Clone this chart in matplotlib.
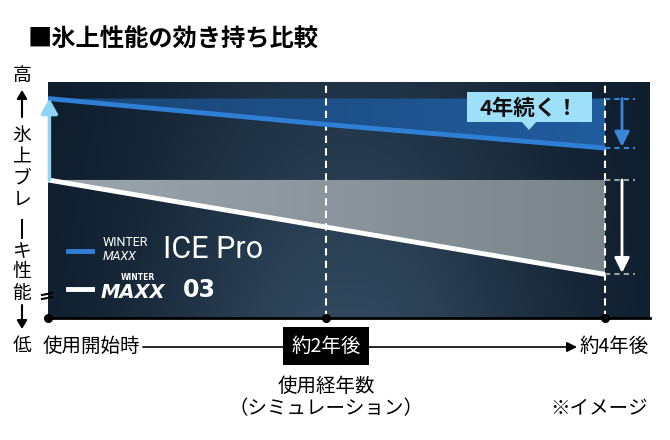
import numpy as np
import matplotlib
matplotlib.use("Agg")
import matplotlib.pyplot as plt
import matplotlib.transforms as mtransforms
from matplotlib.patches import FancyArrowPatch, Polygon, Rectangle
from matplotlib.lines import Line2D

plt.rcParams['font.family'] = ['Noto Sans CJK JP', 'DejaVu Sans']

# data (arbitrary performance scale 0-100)
years = [0, 2, 4]
ice_pro = [93, 82, 72]
maxx03 = [58.5, 38.5, 18.5]
x_labels = ['使用開始時', '約2年後', '約4年後']
title = '■氷上性能の効き持ち比較'
y_chars = '氷上ブレーキ性能'

W, H = 670, 440
fig = plt.figure(figsize=(W / 100, H / 100), dpi=100)
# pixel transform (origin top-left) for decorations
px = mtransforms.Affine2D().scale(1 / W, -1 / H).translate(0, 1) + fig.transFigure

ax_l, ax_r, ax_t, ax_b = 48, 650, 82, 318
ax = fig.add_axes([ax_l / W, 1 - ax_b / H, (ax_r - ax_l) / W, (ax_b - ax_t) / H])
xmax = years[-1] * (ax_r - ax_l) / (605 - ax_l)
ax.set_xlim(0, xmax)
ax.set_ylim(0, 100)
ax.axis('off')

# background gradient
nx, ny = 300, 120
gx = np.linspace(0, 1, nx)[None, :]
gy = np.linspace(0, 1, ny)[:, None]
dark = np.array([0x0d, 0x1b, 0x2a]) / 255
light = np.array([0x31, 0x48, 0x5e]) / 255
w = np.exp(-((gx - 0.5) / 0.34) ** 2) * (0.55 + 0.45 * gy)
bg = dark + (light - dark) * w[..., None]
ax.imshow(bg, extent=[0, xmax, 0, 100], aspect='auto', zorder=0, origin='upper')

xs = np.array(years, dtype=float)

# blue band (between top level and ICE Pro line)
poly_b = ax.fill_between(xs, ice_pro, ice_pro[0], color='none', zorder=1)
gb = np.linspace(0, 1, 200)[None, :]
c0 = np.array([0x1a, 0x44, 0x73]) / 255
c1 = np.array([0x21, 0x5c, 0x9e]) / 255
band_b = c0 + (c1 - c0) * gb[..., None]
im_b = ax.imshow(band_b, extent=[0, years[-1], 0, 100], aspect='auto', zorder=1)
im_b.set_clip_path(poly_b.get_paths()[0], ax.transData)

# gray band (between top level and MAXX 03 line)
poly_g = ax.fill_between(xs, maxx03, maxx03[0], color='none', zorder=1)
g0 = np.array([0x9c, 0xa6, 0xae]) / 255
g1 = np.array([0x7a, 0x84, 0x8b]) / 255
band_g = g0 + (g1 - g0) * gb[..., None]
im_g = ax.imshow(band_g, extent=[0, years[-1], 0, 100], aspect='auto', zorder=1)
im_g.set_clip_path(poly_g.get_paths()[0], ax.transData)

# vertical dashed guides
for xv in years[1:]:
    ax.axvline(xv, color='white', lw=1.5, ls=(0, (3.5, 2.5)), zorder=2)

# lines
ax.plot(xs, ice_pro, color='#2f7fd6', lw=3.5, zorder=4, solid_capstyle='butt')
ax.plot(xs, maxx03, color='white', lw=3.5, zorder=4, solid_capstyle='butt')

# right-side drop indicators
x_dot_end = years[-1] + 30 / ((605 - ax_l) / years[-1])
x_arr = years[-1] + 17 / ((605 - ax_l) / years[-1])
for vals, col, acol in [(ice_pro, '#3a85d8', '#3a85d8'), (maxx03, '#9aa3aa', 'white')]:
    for v in (vals[0], vals[-1]):
        ax.plot([years[-1], x_dot_end], [v, v], color=col, lw=1.5,
                ls=(0, (2.5, 2)), zorder=3)
    ax.add_patch(FancyArrowPatch((x_arr, vals[0]), (x_arr, vals[-1]),
                                 arrowstyle='-|>,head_length=9,head_width=4.5',
                                 color=acol, lw=2, zorder=5, shrinkA=0, shrinkB=1))

# left cyan arrow
ax.add_patch(FancyArrowPatch((0.01, maxx03[0]), (0.01, ice_pro[0]),
                             arrowstyle='-|>,head_length=9,head_width=5',
                             color='#8fd6f5', lw=2.5, zorder=5, shrinkA=0, shrinkB=0,
                             clip_on=False))

# bottom axis line with dots
ax.plot([0, xmax], [0, 0], color='black', lw=2, zorder=6, clip_on=False)
ax.scatter(years, [0] * len(years), s=30, color='black', zorder=7, clip_on=False)

# axis break mark
for dy in (-2, 2):
    fig.add_artist(Line2D([42, 52], [296 + dy + 1, 296 + dy - 1], transform=px,
                          color='black', lw=1.5, zorder=7))

# callout "4年続く！"
fig.add_artist(Rectangle((467, 92), 125, 30, transform=px, facecolor='#9ee0f7',
                         edgecolor='none', zorder=8))
fig.add_artist(Polygon([(521, 121), (537, 121), (529, 130)], closed=True,
                       transform=px, facecolor='#9ee0f7', edgecolor='none', zorder=8))
fig.text(529, 108, '4年続く！', transform=px, ha='center', va='center',
         fontsize=15.5, fontweight='bold', color='#111111', zorder=9)

# legend
fig.add_artist(Line2D([68, 92], [251, 251], transform=px, color='#2f7fd6', lw=3.5))
fig.add_artist(Line2D([68, 92], [289, 289], transform=px, color='white', lw=3.5))
fig.text(103, 243, 'WINTER', transform=px, fontsize=9, color='white',
         family=['Roboto'], va='center')
fig.text(103, 256, 'MAXX', transform=px, fontsize=9, color='white',
         family=['Roboto'], style='italic', va='center')
fig.text(163, 250, 'ICE Pro', transform=px, fontsize=22, color='white',
         family=['Roboto'], va='center')
fig.text(121, 278, 'WINTER', transform=px, fontsize=5.5, color='white',
         family=['DejaVu Sans'], fontweight='bold', va='center')
fig.text(101, 292, 'MAXX', transform=px, fontsize=14, color='white',
         family=['DejaVu Sans'], fontweight='heavy', style='italic', va='center')
fig.text(183, 290, '03', transform=px, fontsize=17, color='white',
         family=['DejaVu Sans'], fontweight='bold', va='center')

# title
fig.text(28, 40, title, transform=px, fontsize=17.5, fontweight='bold',
         color='black', va='center')

# vertical y label (long-vowel mark turned upright for vertical writing)
bar_marks = '\u30fc\uff70\uff0d\u2015\u2014\u2500-'
fig.text(22, 76, '高', transform=px, fontsize=13.5, ha='center', va='center')
fig.add_artist(FancyArrowPatch((22, 117), (22, 90), transform=px,
                               arrowstyle='-|>,head_length=5,head_width=3',
                               color='black', lw=1.5, shrinkA=0, shrinkB=0))
ys = [135, 157, 178, 200, 229, 252, 272, 293]
for ch, yy in zip(y_chars, ys):
    if ch in bar_marks:
        fig.add_artist(Line2D([22, 22], [220, 238], transform=px,
                              color='black', lw=1.4, zorder=5))
    else:
        fig.text(22, yy, ch, transform=px, fontsize=13.5, ha='center', va='center')
fig.add_artist(FancyArrowPatch((22, 305), (22, 329), transform=px,
                               arrowstyle='-|>,head_length=5,head_width=3',
                               color='black', lw=1.5, shrinkA=0, shrinkB=0))
fig.text(22, 345, '低', transform=px, fontsize=13.5, ha='center', va='center')

# x labels
fig.text(91, 346, x_labels[0], transform=px, fontsize=14, ha='center', va='center')
fig.add_artist(FancyArrowPatch((143, 347), (577, 347), transform=px,
                               arrowstyle='-|>,head_length=6,head_width=3',
                               color='black', lw=1.2, shrinkA=0, shrinkB=0))
fig.text(326, 346, x_labels[1], transform=px, fontsize=14, ha='center', va='center',
         color='white', zorder=10,
         bbox=dict(boxstyle='square,pad=0.45', facecolor='black', edgecolor='none'))
fig.text(614, 346, x_labels[2], transform=px, fontsize=14, ha='center', va='center')

fig.text(326, 386, '使用経年数', transform=px, fontsize=14, ha='center', va='center')
fig.text(326, 409, '（シミュレーション）', transform=px, fontsize=14,
         ha='center', va='center')
fig.text(599, 409, '※イメージ', transform=px, fontsize=14, ha='center', va='center')

fig.savefig('out.png', dpi=100)
